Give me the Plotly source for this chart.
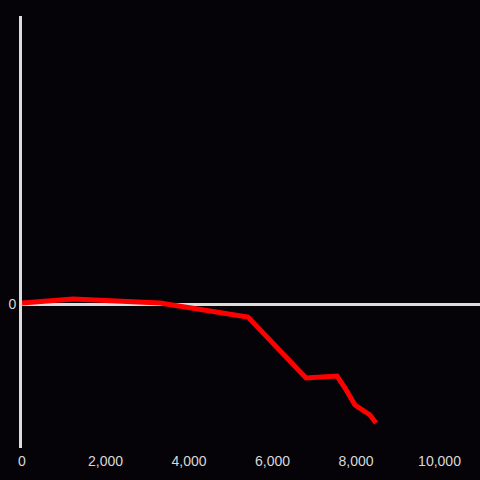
import plotly.graph_objects as go

x_values = [0, 1222, 3305, 5413, 6802, 7545, 7737, 7976, 8335, 8479]
y_values = [1, 5, 1, -13, -74, -72, -84, -101, -111, -119]
x_ticks = [0, 2000, 4000, 6000, 8000, 10000]
x_tick_labels = ["0", "2,000", "4,000", "6,000", "8,000", "10,000"]

fig = go.Figure()
fig.add_trace(go.Scatter(x=x_values, y=y_values, mode="lines",
                         line=dict(color="#ff0000", width=5), hoverinfo="skip"))

fig.update_layout(
    width=480, height=480,
    margin=dict(l=22, r=0, t=16, b=32),
    paper_bgcolor="#050307", plot_bgcolor="#050307",
    showlegend=False,
    font=dict(family="Liberation Sans, Arial, sans-serif", size=14, color="#d8d8d8"),
    xaxis=dict(range=[0, 10970], tickvals=x_ticks, ticktext=x_tick_labels,
               showgrid=False, zeroline=False, showline=False, ticks="",
               automargin=False, ticklabelstandoff=3),
    yaxis=dict(range=[-144, 288], tickvals=[0], ticktext=["0"],
               showgrid=False, zeroline=True, zerolinecolor="#dcdcdc", zerolinewidth=3,
               showline=True, linecolor="#dcdcdc", linewidth=3, ticks="",
               automargin=False),
)

fig.write_html("out.html", config={"displayModeBar": False},
               post_script="document.body.style.margin='0';document.body.style.background='#050307';")
